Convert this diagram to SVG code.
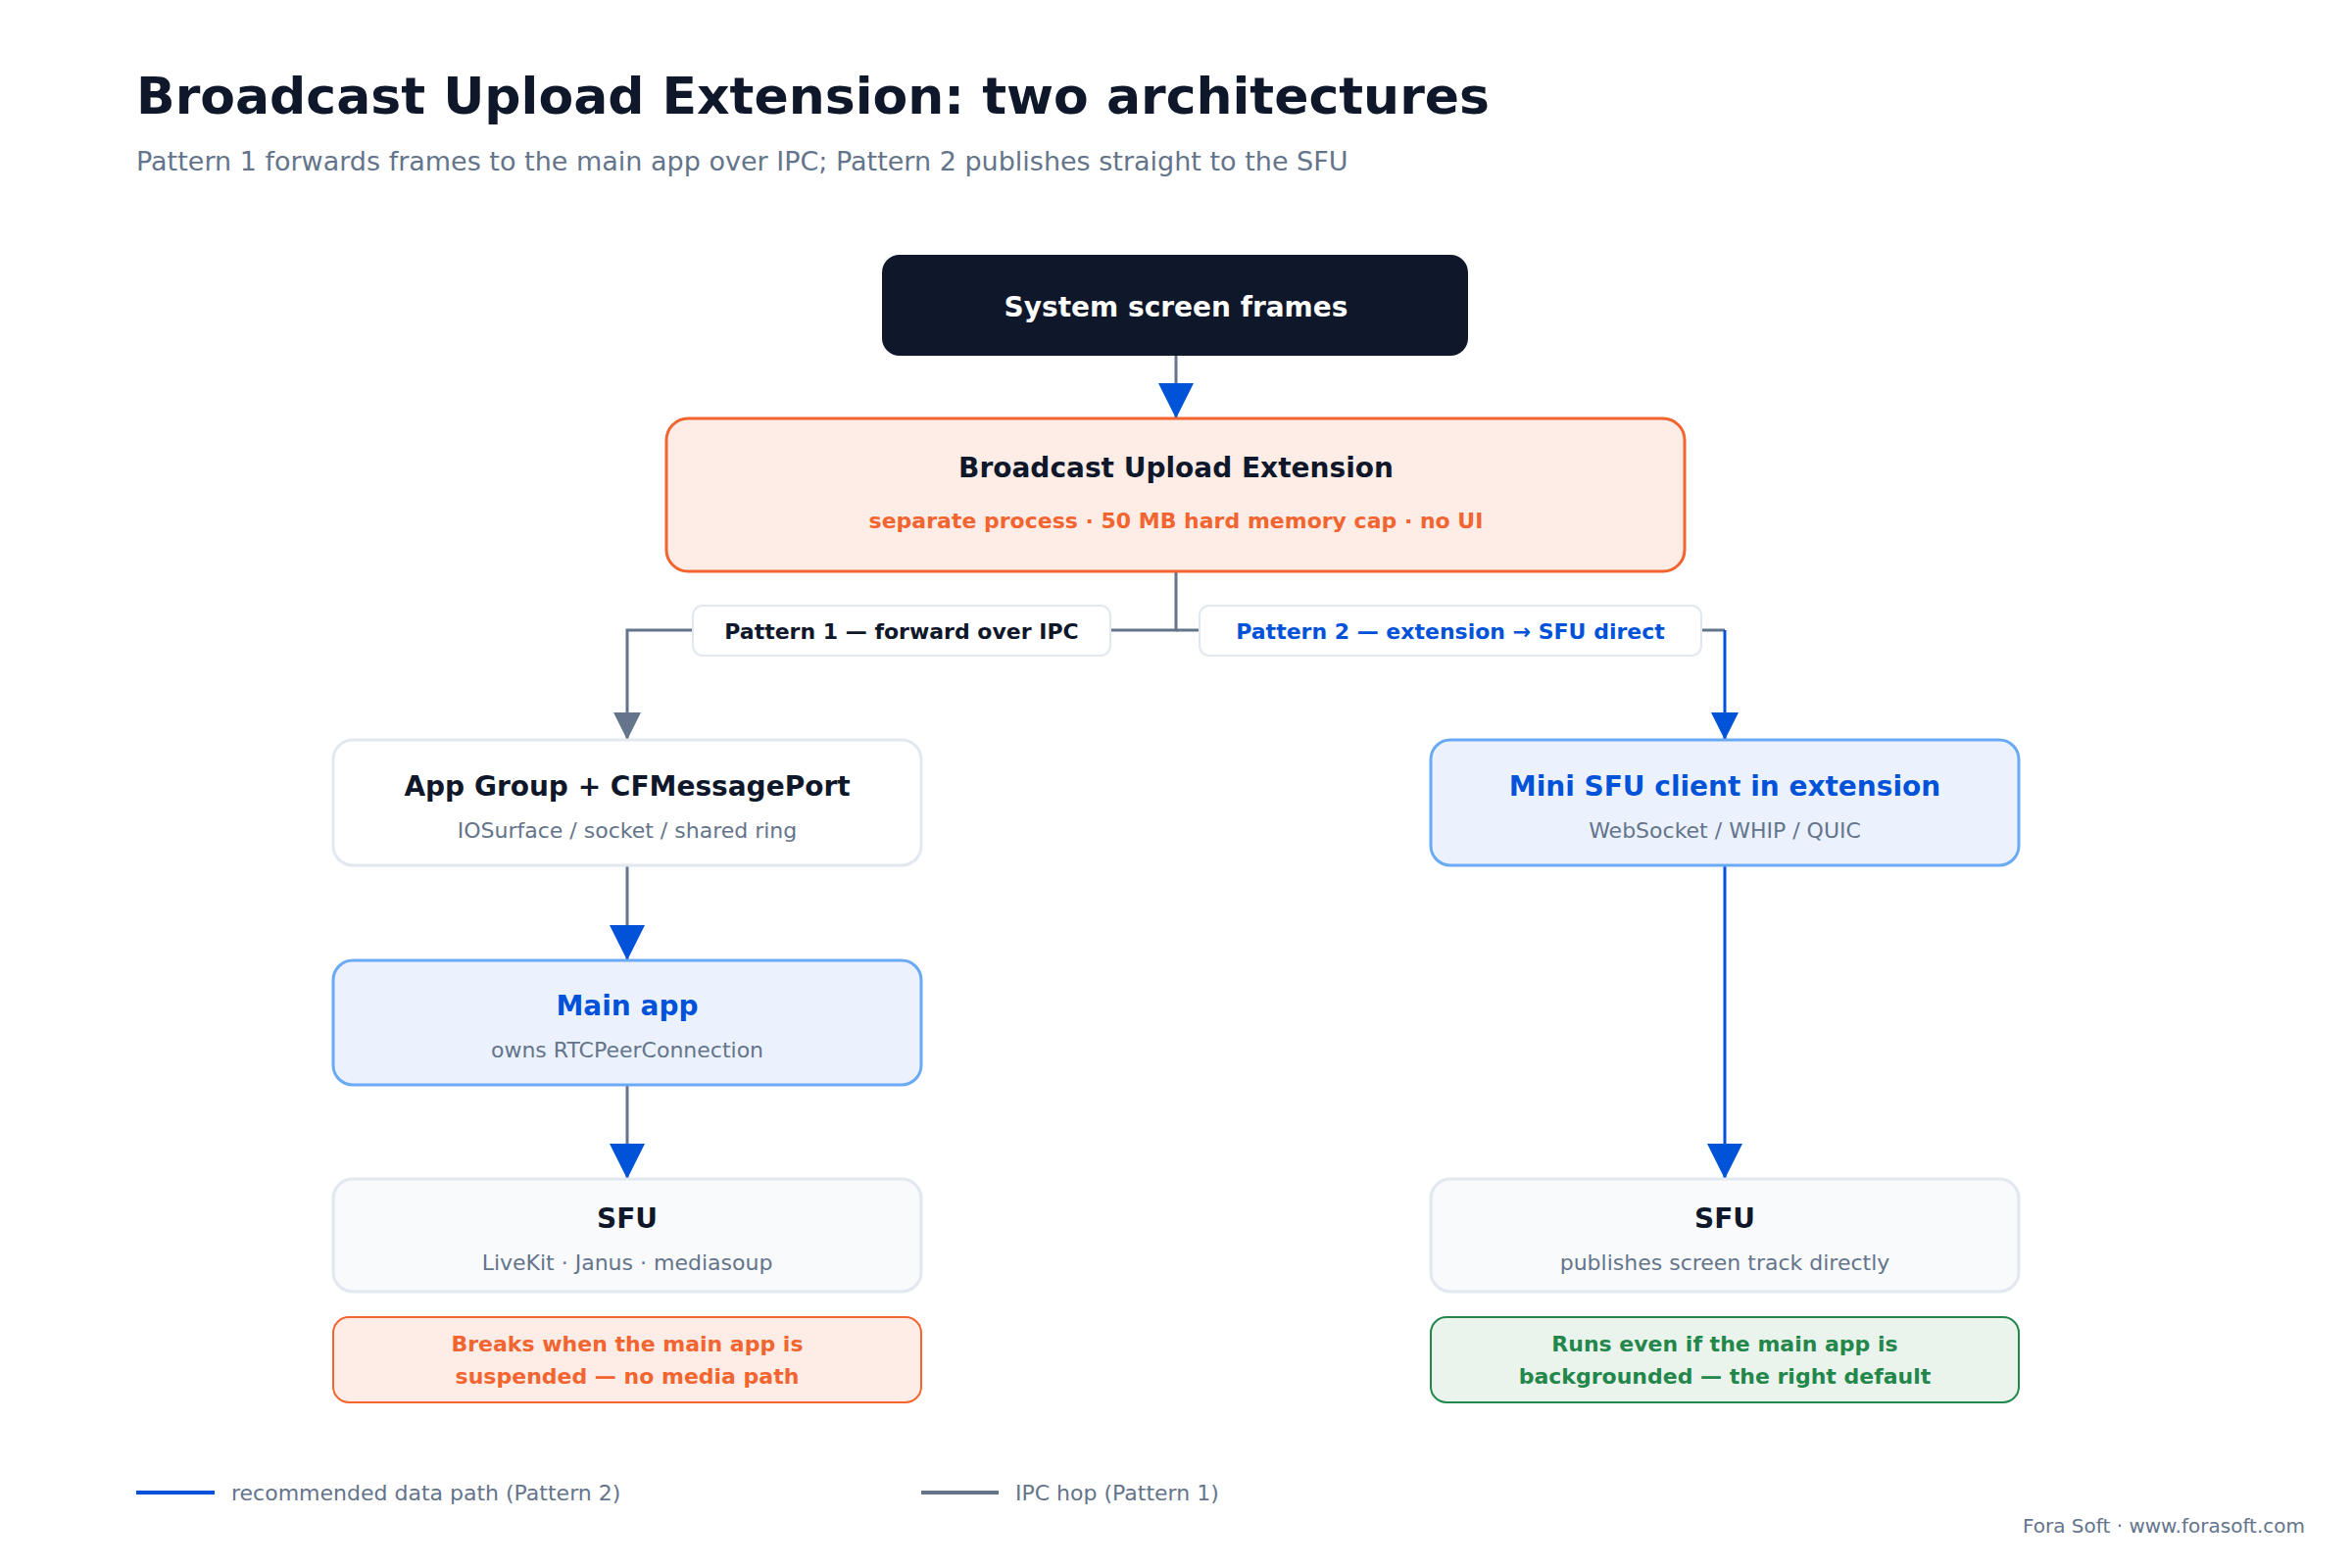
<svg xmlns="http://www.w3.org/2000/svg" width="2400" height="1600" viewBox="0 0 2400 1600">
<style>
text{font-family:"DejaVu Sans","Noto Sans",sans-serif}
.t{font-size:28px;font-weight:bold;fill:#0f172a;text-anchor:middle}
.s{font-size:22px;fill:#64748b;text-anchor:middle}
.n{font-size:22px;font-weight:bold;text-anchor:middle}
.g{stroke:#64748b;stroke-width:3;fill:none}
.b{stroke:#0052d9;stroke-width:3;fill:none}
</style>
<defs>
<marker id="ab" viewBox="0 0 10 10" refX="10" refY="5" markerWidth="12" markerHeight="12" markerUnits="userSpaceOnUse" orient="auto"><path d="M0,0L10,5L0,10z" fill="#0052d9"/></marker>
<marker id="abig" viewBox="0 0 10 10" refX="10" refY="5" markerWidth="36" markerHeight="36" markerUnits="userSpaceOnUse" orient="auto"><path d="M0,0L10,5L0,10z" fill="#0052d9"/></marker>
<marker id="ag" viewBox="0 0 10 10" refX="10" refY="5" markerWidth="28" markerHeight="28" markerUnits="userSpaceOnUse" orient="auto"><path d="M0,0L10,5L0,10z" fill="#64748b"/></marker>
<marker id="ab2" viewBox="0 0 10 10" refX="10" refY="5" markerWidth="28" markerHeight="28" markerUnits="userSpaceOnUse" orient="auto"><path d="M0,0L10,5L0,10z" fill="#0052d9"/></marker>
</defs>
<rect width="2400" height="1600" fill="#fff"/>
<text x="139" y="116" font-size="52" font-weight="bold" fill="#0f172a">Broadcast Upload Extension: two architectures</text>
<text x="139" y="174" font-size="27" fill="#64748b">Pattern 1 forwards frames to the main app over IPC; Pattern 2 publishes straight to the SFU</text>

<g id="connectors">
<path class="g" d="M1200,363V427" marker-end="url(#abig)"/>
<path class="g" d="M1200,583V643H640V755" marker-end="url(#ag)"/>
<path class="g" d="M1200,643H1760"/>
<path class="b" d="M1760,643V755" marker-end="url(#ab2)"/>
<path class="g" d="M640,883V980" marker-end="url(#abig)"/>
<path class="g" d="M640,1107V1203" marker-end="url(#abig)"/>
<path class="b" d="M1760,883V1203" marker-end="url(#abig)"/>
</g>

<g id="lbl1"><rect x="707" y="618" width="426" height="51" rx="10" fill="#fff" stroke="#e2e8f0" stroke-width="2"/><text class="n" x="920" y="652" font-size="24" fill="#0f172a">Pattern 1 — forward over IPC</text></g>
<g id="lbl2"><rect x="1224" y="618" width="512" height="51" rx="10" fill="#fff" stroke="#e2e8f0" stroke-width="2"/><text class="n" x="1480" y="652" font-size="24" fill="#0052d9">Pattern 2 — extension → SFU direct</text></g>

<g id="frames"><rect x="900" y="260" width="598" height="103" rx="18" fill="#0f172a"/><text class="t" x="1200" y="323" fill="#fff" style="fill:#fff">System screen frames</text></g>
<g id="bue"><rect x="680" y="427" width="1039" height="156" rx="22" fill="#fdede6" stroke="#f26430" stroke-width="3"/><text class="t" x="1200" y="487">Broadcast Upload Extension</text><text class="n" x="1200" y="539" font-size="24" fill="#f26430">separate process · 50 MB hard memory cap · no UI</text></g>

<g id="appgroup"><rect x="340" y="755" width="600" height="128" rx="20" fill="#fff" stroke="#e2e8f0" stroke-width="3"/><text class="t" x="640" y="812">App Group + CFMessagePort</text><text class="s" x="640" y="855">IOSurface / socket / shared ring</text></g>
<g id="mainapp"><rect x="340" y="980" width="600" height="127" rx="20" fill="#ebf2fe" stroke="#6aaaf5" stroke-width="3"/><text class="t" x="640" y="1036" style="fill:#0052d9">Main app</text><text class="s" x="640" y="1079">owns RTCPeerConnection</text></g>
<g id="sfu1"><rect x="340" y="1203" width="600" height="115" rx="20" fill="#f8fafc" stroke="#e2e8f0" stroke-width="3"/><text class="t" x="640" y="1253">SFU</text><text class="s" x="640" y="1296">LiveKit · Janus · mediasoup</text></g>
<g id="note1"><rect x="340" y="1344" width="600" height="87" rx="16" fill="#fdede6" stroke="#f26430" stroke-width="2"/><text class="n" x="640" y="1379" fill="#f26430">Breaks when the main app is</text><text class="n" x="640" y="1412" fill="#f26430">suspended — no media path</text></g>

<g id="minisfu"><rect x="1460" y="755" width="600" height="128" rx="20" fill="#ebf2fe" stroke="#6aaaf5" stroke-width="3"/><text class="t" x="1760" y="812" style="fill:#0052d9">Mini SFU client in extension</text><text class="s" x="1760" y="855">WebSocket / WHIP / QUIC</text></g>
<g id="sfu2"><rect x="1460" y="1203" width="600" height="115" rx="20" fill="#f8fafc" stroke="#e2e8f0" stroke-width="3"/><text class="t" x="1760" y="1253">SFU</text><text class="s" x="1760" y="1296">publishes screen track directly</text></g>
<g id="note2"><rect x="1460" y="1344" width="600" height="87" rx="16" fill="#eaf4ec" stroke="#23874b" stroke-width="2"/><text class="n" x="1760" y="1379" fill="#23874b">Runs even if the main app is</text><text class="n" x="1760" y="1412" fill="#23874b">backgrounded — the right default</text></g>

<g id="legend">
<line x1="139" y1="1523" x2="219" y2="1523" stroke="#0052d9" stroke-width="4"/>
<text x="236" y="1531" font-size="22" fill="#64748b">recommended data path (Pattern 2)</text>
<line x1="940" y1="1523" x2="1019" y2="1523" stroke="#64748b" stroke-width="4"/>
<text x="1036" y="1531" font-size="22" fill="#64748b">IPC hop (Pattern 1)</text>
<text x="2352" y="1564" font-size="20" fill="#64748b" text-anchor="end">Fora Soft · www.forasoft.com</text>
</g>
</svg>
